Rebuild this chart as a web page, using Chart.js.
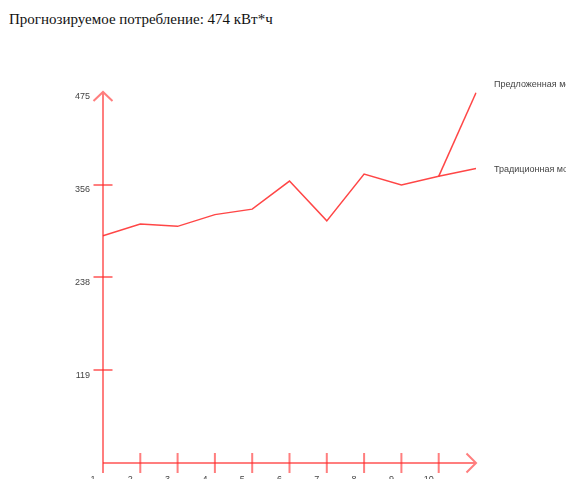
<!DOCTYPE html>
<html>
<head>
<meta charset="utf-8">
<script src="https://cdn.jsdelivr.net/npm/chart.js@4/dist/chart.umd.min.js"></script>
<style>
    body { margin: 0; background: #fff; }
    #wrap { position: relative; width: 566px; height: 479px; overflow: hidden; }
    #title {
        position: absolute; left: 9px; top: 11px;
        font-family: "Liberation Serif", "DejaVu Serif", serif;
        font-size: 15px; color: #111;
    }
    canvas { position: absolute; left: 0; top: 0; }
</style>
</head>
<body>
<div id="wrap">
    <div id="title">Прогнозируемое потребление: 474 кВт*ч</div>
    <canvas id="chart" width="566" height="479"></canvas>
</div>
<script>
// Дни (ось X) и значения потребления
const days = ['1', '2', '3', '4', '5', '6', '7', '8', '9', '10', '11'];
const xTickLabels = ['1', '2', '3', '4', '5', '6', '7', '8', '9', '10'];
const traditional = [291, 306, 303, 318, 325, 361, 310, 370, 356, 367, 377];
const proposed = [null, null, null, null, null, null, null, null, null, 367, 474];
const yTicks = [119, 238, 356];
const yLabels = [119, 238, 356, 475];
const yMax = 475;
const seriesNames = ['Предложенная модель', 'Традиционная модель'];

const axisColor = 'rgba(255, 40, 40, 0.6)';
const lineColor = 'rgba(255, 50, 50, 0.9)';

// Рисуем оси со стрелками и подписи вручную
const axesPlugin = {
    id: 'arrowAxes',
    afterDraw(chart) {
        const ctx = chart.ctx;
        const xs = chart.scales.x;
        const ys = chart.scales.y;
        const x0 = xs.getPixelForValue(0);
        const xEnd = xs.getPixelForValue(days.length - 1);
        const y0 = ys.getPixelForValue(0);
        const yTop = ys.getPixelForValue(yMax);

        ctx.save();
        ctx.strokeStyle = axisColor;
        ctx.lineWidth = 2;

        // ось Y
        ctx.beginPath();
        ctx.moveTo(x0, y0 + 10);
        ctx.lineTo(x0, yTop);
        ctx.moveTo(x0 - 9.5, yTop + 9);
        ctx.lineTo(x0, yTop);
        ctx.lineTo(x0 + 9.5, yTop + 9);
        ctx.stroke();

        // ось X
        ctx.beginPath();
        ctx.moveTo(x0, y0);
        ctx.lineTo(xEnd, y0);
        ctx.moveTo(xEnd - 9.5, y0 - 9.5);
        ctx.lineTo(xEnd, y0);
        ctx.lineTo(xEnd - 9.5, y0 + 9.5);
        ctx.stroke();

        // засечки Y
        ctx.beginPath();
        yTicks.forEach(v => {
            const py = ys.getPixelForValue(v);
            ctx.moveTo(x0 - 9.5, py);
            ctx.lineTo(x0 + 9.5, py);
        });
        // засечки X
        for (let i = 1; i < xTickLabels.length; i++) {
            const px = xs.getPixelForValue(i);
            ctx.moveTo(px, y0 - 10);
            ctx.lineTo(px, y0 + 10);
        }
        ctx.stroke();

        // подписи
        ctx.fillStyle = '#444';
        ctx.font = '9px "Liberation Sans", Arial, sans-serif';
        ctx.textAlign = 'right';
        ctx.textBaseline = 'middle';
        yLabels.forEach(v => {
            ctx.fillText(String(v), x0 - 13, ys.getPixelForValue(v) + 5);
        });
        ctx.textAlign = 'center';
        ctx.textBaseline = 'top';
        xTickLabels.forEach((lbl, i) => {
            ctx.fillText(lbl, xs.getPixelForValue(i) - 10, y0 + 12);
        });

        // названия серий справа
        ctx.textAlign = 'left';
        ctx.textBaseline = 'middle';
        const last = days.length - 1;
        ctx.fillText(seriesNames[0], xEnd + 18, ys.getPixelForValue(proposed[last]) - 8);
        ctx.fillText(seriesNames[1], xEnd + 18, ys.getPixelForValue(traditional[last]) + 1);
        ctx.restore();
    }
};

new Chart(document.getElementById('chart'), {
    type: 'line',
    data: {
        labels: days,
        datasets: [
            {
                label: seriesNames[0],
                data: proposed,
                borderColor: lineColor,
                borderWidth: 1.5,
                pointRadius: 0,
                tension: 0,
                spanGaps: false
            },
            {
                label: seriesNames[1],
                data: traditional,
                borderColor: lineColor,
                borderWidth: 1.5,
                pointRadius: 0,
                tension: 0
            }
        ]
    },
    options: {
        responsive: false,
        animation: false,
        layout: { padding: { left: 103, right: 90, top: 92, bottom: 16 } },
        plugins: {
            legend: { display: false },
            tooltip: { enabled: false }
        },
        scales: {
            x: { type: 'category', offset: false, display: false },
            y: { min: 0, max: yMax, display: false }
        }
    },
    plugins: [axesPlugin]
});
</script>
</body>
</html>
